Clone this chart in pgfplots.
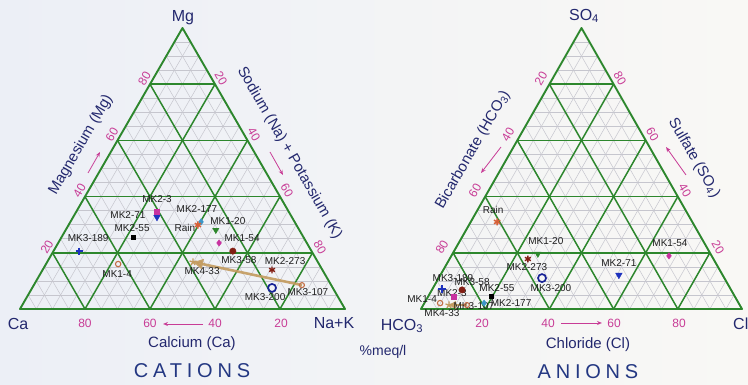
\documentclass[border=0pt]{standalone}
\usepackage{pgfplots}
\pgfplotsset{compat=1.18}
\usepackage{pgfplotstable}
\usepackage{fontspec}
\setmainfont{Liberation Sans}
\newfontfamily\spaced[LetterSpace=24]{Liberation Sans}
\usetikzlibrary{arrows.meta}

\definecolor{gridgreen}{RGB}{45,135,45}
\definecolor{minorgray}{RGB}{198,198,206}
\definecolor{navy}{RGB}{35,40,110}
\definecolor{titleblue}{RGB}{35,55,130}
\definecolor{tickmag}{RGB}{200,60,150}
\definecolor{bgL}{RGB}{236,239,246}
\definecolor{bgR}{RGB}{249,248,245}
\definecolor{tanc}{RGB}{195,155,95}
\definecolor{cmag}{RGB}{200,50,160}
\definecolor{cblue}{RGB}{30,50,190}
\definecolor{csteel}{RGB}{60,150,200}
\definecolor{corange}{RGB}{215,95,55}
\definecolor{cbrown}{RGB}{195,110,70}
\definecolor{cdred}{RGB}{130,30,20}
\definecolor{cnavy}{RGB}{25,35,150}
\definecolor{labtext}{RGB}{30,30,30}

% cation data (% meq/l); dx, dy = label offset
\pgfplotstableread{
lab     Ca   Na   Mg   dx  dy
MK2-3   40.6 24.9 34.5  0   13
MK2-71  41.5 25.8 32.7 -29  2
MK2-55  52.4 22.0 25.6 -1   9
MK2-177 28.8 40.2 31.0 -4   13
Rain    30.3 39.8 29.9 -13 -3
MK1-20  25.7 46.2 28.1  12  9
MK1-54  27.0 49.5 23.5  23  5
MK3-189 71.5 7.9  20.6  9   13
MK1-4   61.8 22.2 16.0 -1  -10
MK3-58  24.2 55.2 20.6  6  -9
MK4-33  38.4 44.9 16.7  9  -9
MK2-273 15.5 70.6 13.9  13  9
MK3-200 18.7 73.8 7.5  -7  -9
MK3-107 9.0  82.5 8.5   6  -7
}\cations

% anion data (% meq/l)
\pgfplotstableread{
lab     HCO3 Cl   SO4  dx  dy
MK2-3   87.6 8.1  4.3  -2   4
MK2-71  32.3 55.6 12.1  0   12
MK2-55  75.9 19.5 4.6   6   8
MK2-177 79.3 18.6 2.1   27  0
Rain    60.8 8.2  31.0 -4   12
MK1-20  53.8 26.6 19.6  8   13
MK1-54  13.3 67.8 18.9  1   13
MK3-189 89.9 3.0  7.1   11  11
MK1-4   93.0 4.9  2.1  -18  4
MK3-58  83.8 9.4  6.8   10  8
MK4-33  90.6 8.0  1.4  -7  -8
MK2-273 57.8 24.4 17.8 -1  -8
MK3-200 56.8 32.2 11.0  9  -10
MK3-107 85.0 13.6 1.4   7  -1
}\anions

\newcommand{\tgrid}[2]{%
 \draw[#2] (axis cs:{20+1.625*#1},{76+2.81*#1}) -- (axis cs:{345-1.625*#1},{76+2.81*#1});
 \draw[#2] (axis cs:{20+3.25*#1},76) -- (axis cs:{182.5+1.625*#1},{357-2.81*#1});
 \draw[#2] (axis cs:{345-3.25*#1},76) -- (axis cs:{182.5-1.625*#1},{357-2.81*#1});
 \draw[#2] (axis cs:{421+1.605*#1},{76+2.81*#1}) -- (axis cs:{742-1.605*#1},{76+2.81*#1});
 \draw[#2] (axis cs:{421+3.21*#1},76) -- (axis cs:{581.5+1.605*#1},{357-2.81*#1});
 \draw[#2] (axis cs:{742-3.21*#1},76) -- (axis cs:{581.5-1.605*#1},{357-2.81*#1});
}

\pgfplotsset{
 s0/.style={mark=square*,mark size=2.5pt,color=cmag},
 s1/.style={mark=triangle*,mark size=3.8pt,mark options={rotate=180},color=cblue},
 s2/.style={mark=square*,mark size=1.9pt,color=black},
 s3/.style={mark=diamond*,mark size=3.2pt,color=csteel},
 s4/.style={mark=asterisk,mark size=3.6pt,mark options={line width=1.5pt},color=corange},
 s5/.style={mark=triangle*,mark size=3.6pt,mark options={rotate=180},color=gridgreen},
 s6/.style={mark=diamond*,mark size=3.2pt,color=cmag},
 s7/.style={mark=+,mark size=3.6pt,mark options={line width=1.5pt},color=cblue},
 s8/.style={mark=o,mark size=2.7pt,mark options={line width=1.1pt},color=cbrown},
 s9/.style={mark=*,mark size=3.2pt,color=cdred},
 s10/.style={mark=star,mark size=3.6pt,mark options={line width=1.3pt},color=tanc},
 s11/.style={mark=asterisk,mark size=3.4pt,mark options={line width=1.4pt},color=cdred},
 s12/.style={mark=o,mark size=4pt,mark options={line width=1.7pt},color=cnavy},
 s13/.style={mark=o,mark size=2.5pt,mark options={line width=1.1pt},color=cbrown},
 samplelabels/.style={only marks, mark=none, point meta=explicit symbolic, nodes near coords,
  visualization depends on={\thisrow{dx}\as\dx},
  visualization depends on={\thisrow{dy}\as\dy},
  every node near coord/.append style={font=\fontsize{10}{11}\selectfont, text=labtext, anchor=center, xshift=\dx pt, yshift=\dy pt, inner sep=0pt}
 },
 /pgfplots/table/catxy/.style={/pgfplots/table/x expr={20+3.25*\thisrow{Na}+1.625*\thisrow{Mg}}, /pgfplots/table/y expr={76+2.81*\thisrow{Mg}}},
 /pgfplots/table/anixy/.style={/pgfplots/table/x expr={421+3.21*\thisrow{Cl}+1.605*\thisrow{SO4}}, /pgfplots/table/y expr={76+2.81*\thisrow{SO4}}}
}

\begin{document}
\begin{tikzpicture}
\begin{axis}[name=ax, hide axis, scale only axis, width=748pt, height=385pt,
  xmin=0, xmax=748, ymin=0, ymax=385, clip=false]
 % background
 \fill[left color=bgL, right color=bgR] (axis cs:0,0) rectangle (axis cs:748,385);
 % minor grid
 \pgfplotsinvokeforeach{5,10,...,95}{\tgrid{#1}{minorgray, line width=0.5pt}}
 % major grid
 \pgfplotsinvokeforeach{20,40,60,80}{\tgrid{#1}{gridgreen, line width=1.5pt}}
 \draw[gridgreen, line width=1.9pt, line join=round] (axis cs:20,76) -- (axis cs:345,76) -- (axis cs:182.5,357) -- cycle;
 \draw[gridgreen, line width=1.9pt, line join=round] (axis cs:421,76) -- (axis cs:742,76) -- (axis cs:581.5,357) -- cycle;

 % tick labels - cations
 \begin{scope}[every node/.style={text=tickmag, font=\fontsize{12}{13}\selectfont, inner sep=0pt}]
 \node[rotate=60] at (axis cs:47,138) {20};
 \node[rotate=60] at (axis cs:79.5,194.4) {40};
 \node[rotate=60] at (axis cs:112,250.6) {60};
 \node[rotate=60] at (axis cs:144.5,306.8) {80};
 \node[rotate=-60] at (axis cs:221,306.8) {20};
 \node[rotate=-60] at (axis cs:254,250.6) {40};
 \node[rotate=-60] at (axis cs:287,194.4) {60};
 \node[rotate=-60] at (axis cs:320,138) {80};
 \node at (axis cs:85,62) {80};
 \node at (axis cs:150,62) {60};
 \node at (axis cs:215,62) {40};
 \node at (axis cs:281,62) {20};
 % anions
 \node[rotate=60] at (axis cs:541,306.8) {20};
 \node[rotate=60] at (axis cs:508,250.6) {40};
 \node[rotate=60] at (axis cs:475,194.4) {60};
 \node[rotate=60] at (axis cs:442,138) {80};
 \node[rotate=-60] at (axis cs:620,306.8) {80};
 \node[rotate=-60] at (axis cs:652.5,250.6) {60};
 \node[rotate=-60] at (axis cs:685,194.4) {40};
 \node[rotate=-60] at (axis cs:718,138) {20};
 \node at (axis cs:482,62) {20};
 \node at (axis cs:548,62) {40};
 \node at (axis cs:614,62) {60};
 \node at (axis cs:679,62) {80};
 \end{scope}

 % magenta direction arrows
 \begin{scope}[tickmag, line width=0.8pt, -{Stealth[length=5pt,width=4pt,open]}]
 \draw (axis cs:88,212) -- (axis cs:100,233);
 \draw (axis cs:270,233) -- (axis cs:283,210);
 \draw (axis cs:203,61) -- (axis cs:163,61);
 \draw (axis cs:501,238) -- (axis cs:481,212);
 \draw (axis cs:686,210) -- (axis cs:666,238);
 \draw (axis cs:561,62) -- (axis cs:602,62);
 \end{scope}

 % corner and axis titles
 \begin{scope}[every node/.style={text=navy, inner sep=0pt}]
 \node[font=\fontsize{16}{18}\selectfont] at (axis cs:183,367) {Mg};
 \node[font=\fontsize{16}{18}\selectfont] at (axis cs:18,61) {Ca};
 \node[font=\fontsize{16}{18}\selectfont] at (axis cs:334,62) {Na+K};
 \node[font=\fontsize{16}{18}\selectfont] at (axis cs:584,369) {SO\textsubscript{4}};
 \node[font=\fontsize{16}{18}\selectfont] at (axis cs:402,59) {HCO\textsubscript{3}};
 \node[font=\fontsize{16}{18}\selectfont, anchor=west] at (axis cs:733,61) {Cl};
 \node[font=\fontsize{15}{17}\selectfont] at (axis cs:192,41) {Calcium (Ca)};
 \node[font=\fontsize{15}{17}\selectfont] at (axis cs:588,40) {Chloride (Cl)};
 \node[font=\fontsize{14}{16}\selectfont] at (axis cs:383,33) {\%meq/l};
 \node[font=\fontsize{15}{17}\selectfont, rotate=60] at (axis cs:81,240) {Magnesium (Mg)};
 \node[font=\fontsize{15}{17}\selectfont, rotate=-60] at (axis cs:289.5,232) {Sodium (Na) + Potassium (K)};
 \node[font=\fontsize{15}{17}\selectfont, rotate=60] at (axis cs:473,235) {Bicarbonate (HCO\textsubscript{3})};
 \node[font=\fontsize{15}{17}\selectfont, rotate=-60] at (axis cs:694,227) {Sulfate (SO\textsubscript{4})};
 \node[text=titleblue, font=\spaced\fontsize{20}{22}\selectfont] at (axis cs:192,14) {CATIONS};
 \node[text=titleblue, font=\spaced\fontsize{20}{22}\selectfont] at (axis cs:588,13) {ANIONS};
 \end{scope}

 % sample labels
 \addplot[samplelabels] table[catxy, meta=lab]{\cations};
 \addplot[samplelabels] table[anixy, meta=lab]{\anions};

 % evolution arrows MK3-107 -> MK4-33
 \addplot[tanc, line width=2.6pt, opacity=0.9, -{Triangle[length=10pt,width=10pt]}]
   table[catxy]{
 Na   Mg
 82.5 8.5
 44.9 16.7
 };
 \addplot[tanc, line width=2.6pt, opacity=0.9, -{Triangle[length=7pt,width=8pt]}]
   table[anixy]{
 Cl   SO4
 13.6 1.4
 8.0  1.4
 };

 % sample markers, one style per sample (row)
 \pgfplotsinvokeforeach{0,...,13}{
  \addplot[only marks, s#1, x filter/.expression={\coordindex==#1 ? x : nan}] table[catxy]{\cations};
  \addplot[only marks, s#1, x filter/.expression={\coordindex==#1 ? x : nan}] table[anixy]{\anions};
 }
\end{axis}
\pgfresetboundingbox
\useasboundingbox (ax.south west) rectangle (ax.north east);
\end{tikzpicture}
\end{document}
